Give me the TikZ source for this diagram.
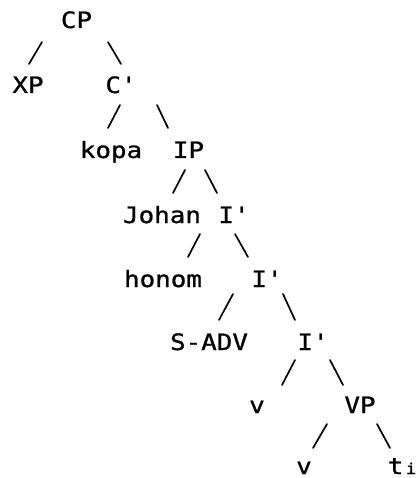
\documentclass[tikz,border=0pt]{standalone}
\usepackage{fontspec}
\newfontfamily\treefont[FakeStretch=1.15,FakeBold=1,Ligatures=TeXOff]{DejaVu Sans Mono}
\begin{document}
\begin{tikzpicture}[x=1bp,y=-1bp,
  lbl/.style={anchor=base,inner sep=0pt,font=\treefont\fontsize{22.5bp}{22.5bp}\selectfont},
  branch/.style={line width=1.7bp,line cap=round}]
\useasboundingbox (0,0) rectangle (417,478);
% a branch: parent, offset from its base, child, offset from its base
\newcommand\branch[6]{\draw[branch] ([shift={(#2,#3)}]#1.base) -- ([shift={(#5,#6)}]#4.base);}

\node[lbl] (cp)    at (76.5,28)  {CP};
\node[lbl] (xp)    at (28,93)    {XP};
\node[lbl] (cbar)  at (121,93)   {C'};
\node[lbl] (kopa)  at (111,158)  {kopa};
\node[lbl] (ip)    at (188.5,158){IP};
\node[lbl] (johan) at (162,223)  {Johan};
\node[lbl] (ia)    at (234,223)  {I'};
\node[lbl] (honom) at (163,287)  {honom};
\node[lbl] (ib)    at (267,287)  {I'};
\node[lbl] (sadv)  at (209,350)  {S-ADV};
\node[lbl] (ic)    at (313,350)  {I'};
\node[lbl] (va)    at (257,413)  {v};
\node[lbl] (vp)    at (360,413)  {VP};
\node[lbl] (vb)    at (304,474)  {v};
\node[lbl] (trace) at (402,474)  {t\kern2.5bp{\fontsize{15bp}{15bp}\selectfont i}};

\branch{cp}{-34.5}{14}{xp}{1}{-29}
\branch{cp}{31.5}{14}{cbar}{0}{-29}
\branch{cbar}{-1}{12}{kopa}{-3}{-30}
\branch{cbar}{36}{12}{ip}{-20.5}{-30}
\branch{ip}{-3.5}{12}{johan}{11}{-30}
\branch{ip}{16.5}{12}{ia}{-17}{-30}
\branch{ia}{-34}{11}{honom}{25}{-30}
\branch{ia}{1}{11}{ib}{-19}{-30}
\branch{ib}{-34}{7}{sadv}{10}{-30}
\branch{ib}{16}{7}{ic}{-18}{-30}
\branch{ic}{-18}{10}{va}{25}{-28}
\branch{ic}{17}{10}{vp}{-17}{-28}
\branch{vp}{-33}{11}{vb}{9}{-26}
\branch{vp}{17}{11}{trace}{-12}{-26}
\end{tikzpicture}
\end{document}
